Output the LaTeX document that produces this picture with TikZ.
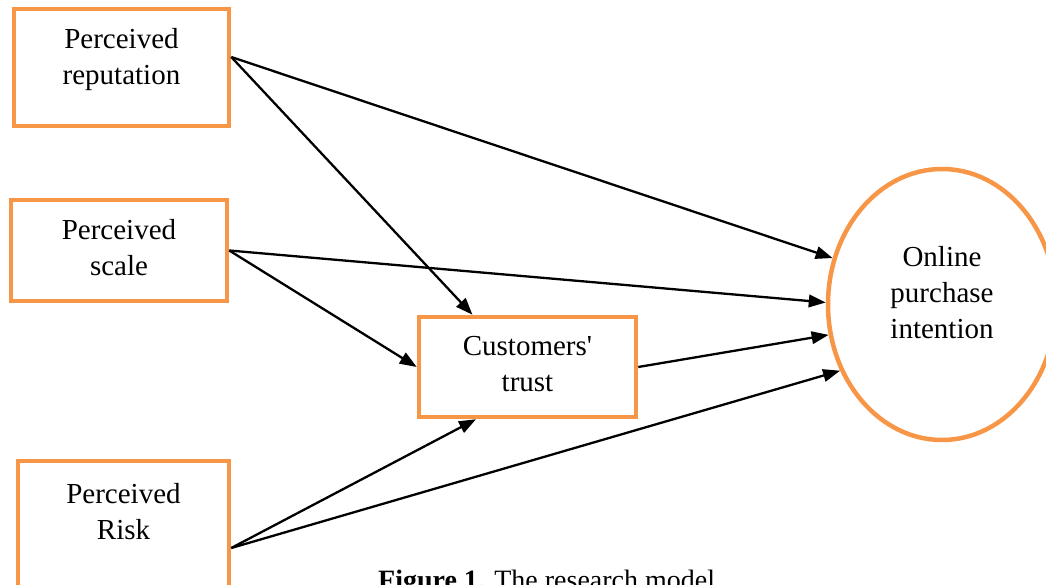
\documentclass[tikz,border=0pt]{standalone}
\usepackage{fontspec}
\setmainfont{Liberation Serif}
\usetikzlibrary{arrows.meta,shapes.geometric}
\definecolor{boxorange}{HTML}{F79646}
\begin{document}
\begin{tikzpicture}[x=1pt,y=-1pt,
  box/.style={draw=boxorange, line width=4.5pt, rectangle, inner sep=0pt},
  oval/.style={draw=boxorange, line width=4.5pt, ellipse, inner sep=0pt},
  txt/.style={align=center, font=\fontsize{29}{36}\selectfont, inner sep=0pt, text=black},
  link/.style={line width=2.3pt, -{Triangle[length=17pt,width=12.5pt]}},
]
\useasboundingbox (0,0) rectangle (1046,585);
\clip (0,0) rectangle (1046,585);

% constructs
\node[box, minimum width=215pt, minimum height=117pt,
      label={[txt, yshift=8pt]center:Perceived\\reputation}] (rep) at (121.5,67.5) {};
\node[box, minimum width=216pt, minimum height=101pt,
      label={[txt, yshift=3pt]center:Perceived\\scale}] (scale) at (119,250.5) {};
\node[box, minimum width=217pt, minimum height=100pt,
      label={[txt, yshift=2.5pt]center:Customers\textquotesingle\\trust}] (trust) at (527.5,367) {};
\node[box, minimum width=211pt, minimum height=139pt,
      label={[txt, yshift=18.8pt]center:Perceived\\Risk}] (risk) at (123.5,530.5) {};
\node[oval, minimum width=228pt, minimum height=271pt,
      label={[txt, yshift=12pt]center:Online\\purchase\\intention}] (intent) at (942,304.5) {};

% relations
\draw[link] ([yshift=10.5pt]rep.east) -- (intent.157.6);
\draw[link] ([yshift=10.5pt]rep.east) -- ([xshift=-55pt]trust.north);
\draw[link] (scale.east) -- (intent.179.3);
\draw[link] (scale.east) -- (trust.west);
\draw[link] (trust.east) -- (intent.195.8);
\draw[link] ([yshift=-17.5pt]risk.east) -- ([xshift=-51.5pt]trust.south);
\draw[link] ([yshift=-17.5pt]risk.east) -- (intent.213.3);

% caption
\node[anchor=base west, inner sep=0pt, font=\fontsize{28}{34}\selectfont] (cap) at (378,589)
  {\textbf{Figure 1.} The research model};
\end{tikzpicture}
\end{document}
